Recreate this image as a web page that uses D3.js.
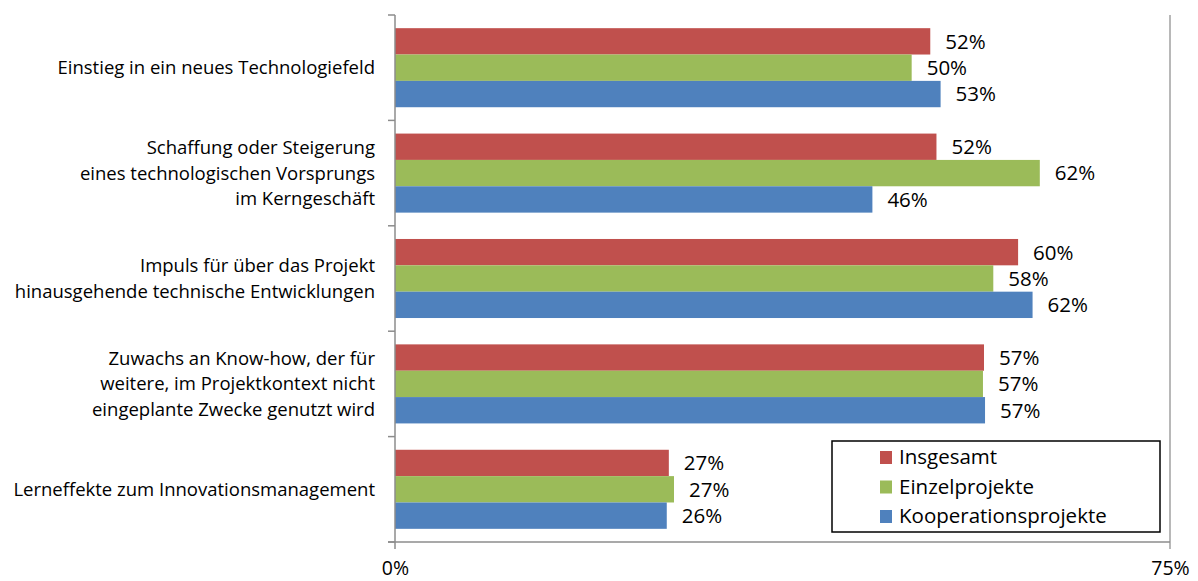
<!DOCTYPE html>
<html>
<head>
<meta charset="utf-8">
<script src="https://cdn.jsdelivr.net/npm/d3@7"></script>
<style>
  body { margin: 0; background: #fff; }
  svg { font-family: "Open Sans", sans-serif; }
</style>
</head>
<body>
<div id="chart"></div>
<script>
// categories (line-broken like the original) and the three series
const categories = [
    ["Einstieg in ein neues Technologiefeld"],
    ["Schaffung oder Steigerung", "eines technologischen Vorsprungs", "im Kerngeschäft"],
    ["Impuls für über das Projekt", "hinausgehende technische Entwicklungen"],
    ["Zuwachs an Know-how, der für", "weitere, im Projektkontext nicht", "eingeplante Zwecke genutzt wird"],
    ["Lerneffekte zum Innovationsmanagement"]
];
const seriesNames = ["Insgesamt", "Einzelprojekte", "Kooperationsprojekte"];
const seriesColors = ["#c0504d", "#9bbb59", "#4f81bd"];
const insgesamt = [51.8, 52.4, 60.3, 57.0, 26.5];
const einzelprojekte = [50.0, 62.4, 57.9, 56.9, 27.0];
const kooperationsprojekte = [52.8, 46.2, 61.7, 57.1, 26.3];
const xTicks = [0, 75];

document.addEventListener('DOMContentLoaded', function() {
    const W = 1198, H = 581;
    const margin = { top: 15, right: 28, bottom: 39, left: 395 },
        width = W - margin.left - margin.right,
        height = H - margin.top - margin.bottom;
    const axisColor = "#8c8c8c";

    const svg = d3.select("#chart").append("svg")
        .attr("width", W).attr("height", H)
        .append("g")
        .attr("transform", `translate(${margin.left},${margin.top})`);

    const series = [insgesamt, einzelprojekte, kooperationsprojekte];
    const data = categories.map((c, i) => ({
        idx: i,
        lines: c,
        values: series.map((s, j) => ({ key: j, value: s[i] }))
    }));

    const xScale = d3.scaleLinear().domain([0, 75]).range([0, width]);
    const yScale = d3.scaleBand().domain(d3.range(categories.length)).range([0, height])
        .paddingInner(0.25).paddingOuter(0.125);
    const ySub = d3.scaleBand().domain(d3.range(3)).range([0, yScale.bandwidth()]);

    // right frame line
    svg.append("line")
        .attr("x1", width).attr("x2", width)
        .attr("y1", 0).attr("y2", height + 7)
        .attr("stroke", "#a0a0a0").attr("stroke-width", 1.5);

    // groups of bars
    const groups = svg.selectAll(".grp").data(data).enter().append("g")
        .attr("class", "grp")
        .attr("transform", d => `translate(0,${yScale(d.idx)})`);

    groups.selectAll("rect").data(d => d.values).enter().append("rect")
        .attr("x", 0)
        .attr("y", d => ySub(d.key))
        .attr("width", d => xScale(d.value))
        .attr("height", ySub.bandwidth())
        .attr("fill", d => seriesColors[d.key]);

    groups.selectAll(".lbl").data(d => d.values).enter().append("text")
        .attr("class", "lbl")
        .attr("x", d => xScale(d.value) + 15)
        .attr("y", d => ySub(d.key) + ySub.bandwidth() / 2)
        .attr("dy", "0.36em")
        .attr("font-size", "20.5px")
        .attr("fill", "#000")
        .text(d => Math.round(d.value) + "%");

    // category labels
    const catScale = d3.scaleBand().domain(d3.range(categories.length)).range([0, height]);
    const lineH = 25.5;
    svg.selectAll(".cat").data(data).enter().append("text")
        .attr("class", "cat")
        .attr("text-anchor", "end")
        .attr("font-size", "18.5px")
        .attr("fill", "#000")
        .attr("transform", d => `translate(-20,${catScale(d.idx) + catScale.bandwidth() / 2})`)
        .selectAll("tspan").data(d => d.lines.map((l, k) => ({ l, k, n: d.lines.length })))
        .enter().append("tspan")
        .attr("x", 0)
        .attr("y", d => (d.k - (d.n - 1) / 2) * lineH)
        .attr("dy", "0.35em")
        .text(d => d.l);

    // y axis with category ticks
    const yAxis = svg.append("g");
    yAxis.append("line")
        .attr("x1", 0).attr("x2", 0).attr("y1", 0).attr("y2", height + 7)
        .attr("stroke", axisColor).attr("stroke-width", 1.5);
    yAxis.selectAll(".yt").data(d3.range(categories.length + 1)).enter().append("line")
        .attr("x1", -7).attr("x2", 0)
        .attr("y1", d => d * catScale.step()).attr("y2", d => d * catScale.step())
        .attr("stroke", axisColor).attr("stroke-width", 1.5);

    // x axis
    const xAxis = svg.append("g").attr("transform", `translate(0,${height})`)
        .call(d3.axisBottom(xScale).tickValues(xTicks).tickSize(0).tickPadding(19).tickFormat(d => d + "%"));
    xAxis.select(".domain").remove();
    xAxis.append("line")
        .attr("x1", -7).attr("x2", width).attr("y1", 0).attr("y2", 0)
        .attr("stroke", axisColor).attr("stroke-width", 1.5);
    xAxis.selectAll("text").attr("font-size", "19.5px").attr("fill", "#000")
        .attr("font-family", "'Open Sans', sans-serif");
    xAxis.selectAll(".tick line").remove();

    // legend
    const legend = svg.append("g").attr("transform", `translate(${832 - margin.left},${441 - margin.top})`);
    legend.append("rect")
        .attr("width", 328).attr("height", 91)
        .attr("fill", "#fff").attr("stroke", "#000").attr("stroke-width", 1.5);
    const rows = legend.selectAll(".lg").data(seriesNames).enter().append("g")
        .attr("transform", (d, i) => `translate(48,${16 + i * 29.5})`);
    rows.append("rect")
        .attr("x", 0).attr("y", -6).attr("width", 12).attr("height", 13)
        .attr("fill", (d, i) => seriesColors[i]);
    rows.append("text")
        .attr("x", 19).attr("dy", "0.36em")
        .attr("font-size", "20.5px").attr("fill", "#000")
        .text(d => d);
});
</script>
</body>
</html>
